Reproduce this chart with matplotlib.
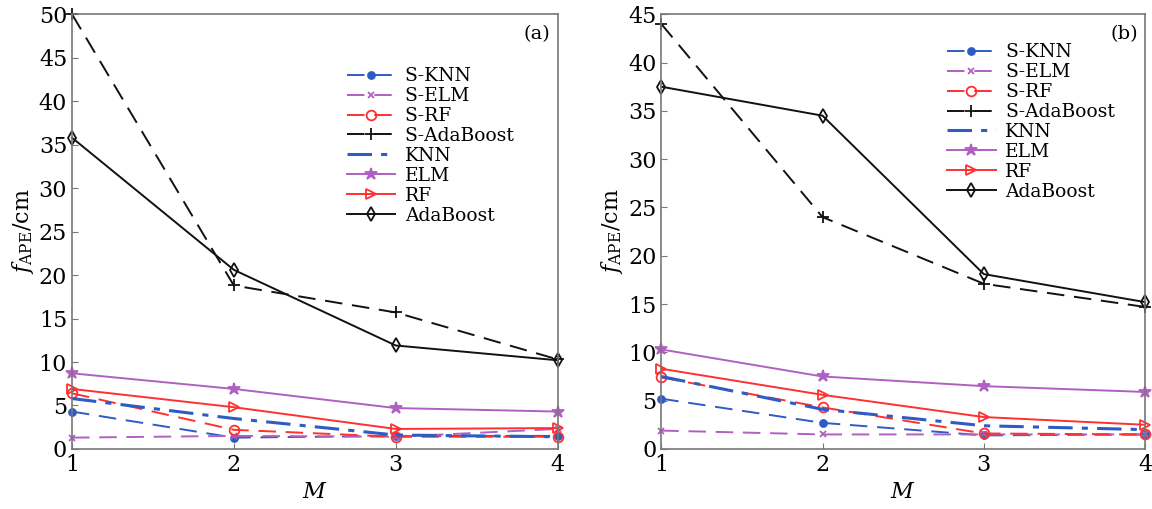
import matplotlib.pyplot as plt
import numpy as np

plt.rcParams['font.family'] = ['DejaVu Serif']
plt.rcParams['mathtext.fontset'] = 'dejavuserif'

M = [1, 2, 3, 4]
names = ['S-KNN', 'S-ELM', 'S-RF', 'S-AdaBoost', 'KNN', 'ELM', 'RF', 'AdaBoost']

# panel (a)
a_vals = {
    'S-KNN': [4.3, 1.3, 1.5, 1.5],
    'S-ELM': [1.3, 1.5, 1.4, 2.3],
    'S-RF': [6.4, 2.2, 1.4, 1.4],
    'S-AdaBoost': [50.0, 18.8, 15.7, 10.3],
    'KNN': [5.8, 3.5, 1.6, 1.4],
    'ELM': [8.7, 6.9, 4.7, 4.3],
    'RF': [6.9, 4.8, 2.3, 2.4],
    'AdaBoost': [35.8, 20.6, 11.9, 10.2],
}
# panel (b)
b_vals = {
    'S-KNN': [5.2, 2.7, 1.4, 1.5],
    'S-ELM': [1.9, 1.5, 1.5, 1.5],
    'S-RF': [7.4, 4.3, 1.6, 1.5],
    'S-AdaBoost': [44.0, 24.0, 17.1, 14.7],
    'KNN': [7.5, 4.1, 2.4, 2.0],
    'ELM': [10.3, 7.5, 6.5, 5.9],
    'RF': [8.3, 5.6, 3.3, 2.5],
    'AdaBoost': [37.5, 34.5, 18.1, 15.2],
}

blue = '#2e5cc4'
purple = '#b060c0'
red = '#ff3030'
black = '#111111'

dash = (0, (9, 5))
styles = {
    'S-KNN': dict(color=blue, ls=dash, marker='o', ms=5, mfc=blue),
    'S-ELM': dict(color=purple, ls=dash, marker='x', ms=5),
    'S-RF': dict(color=red, ls=dash, marker='o', ms=7, mfc='none'),
    'S-AdaBoost': dict(color=black, ls=dash, marker='+', ms=9),
    'KNN': dict(color=blue, ls=(0, (8, 3, 2, 3)), lw=2.2, marker=None),
    'ELM': dict(color=purple, ls='-', marker='*', ms=9, mfc=purple),
    'RF': dict(color=red, ls='-', marker='>', ms=7, mfc='none'),
    'AdaBoost': dict(color=black, ls='-', marker='d', ms=7, mfc='none'),
}

fig = plt.figure(figsize=(11.52, 5.09), dpi=100)
ax1 = fig.add_axes([0.0625, 0.118, 0.4215, 0.854])
ax2 = fig.add_axes([0.574, 0.118, 0.42, 0.854])

panels = [(ax1, a_vals, 50, '(a)', (0.55, 0.895)),
          (ax2, b_vals, 45, '(b)', (0.575, 0.95))]

for ax, vals, ymax, tag, legpos in panels:
    for n in names:
        st = dict(styles[n])
        lw = st.pop('lw', 1.4)
        ax.plot(M, vals[n], lw=lw, mew=1.3, label=n, clip_on=False, **st)
    ax.set_xlim(1, 4)
    ax.set_ylim(0, ymax)
    ax.set_xticks(M)
    ax.set_yticks(np.arange(0, ymax + 1, 5))
    ax.tick_params(direction='in', labelsize=16, length=4, color='#777777')
    for s in ax.spines.values():
        s.set_color('#777777')
        s.set_linewidth(1.2)
    ax.set_xlabel('$M$', fontsize=16)
    ax.set_ylabel(r'$f_{\mathrm{APE}}$/cm', fontsize=16, labelpad=2)
    ax.text(0.985, 0.975, tag, transform=ax.transAxes, ha='right', va='top', fontsize=14)
    ax.legend(loc='upper left', bbox_to_anchor=legpos, frameon=False, fontsize=13.5,
              handlelength=2.6, labelspacing=0.1, borderaxespad=0, handletextpad=0.5)

fig.savefig('out.png', dpi=100)
